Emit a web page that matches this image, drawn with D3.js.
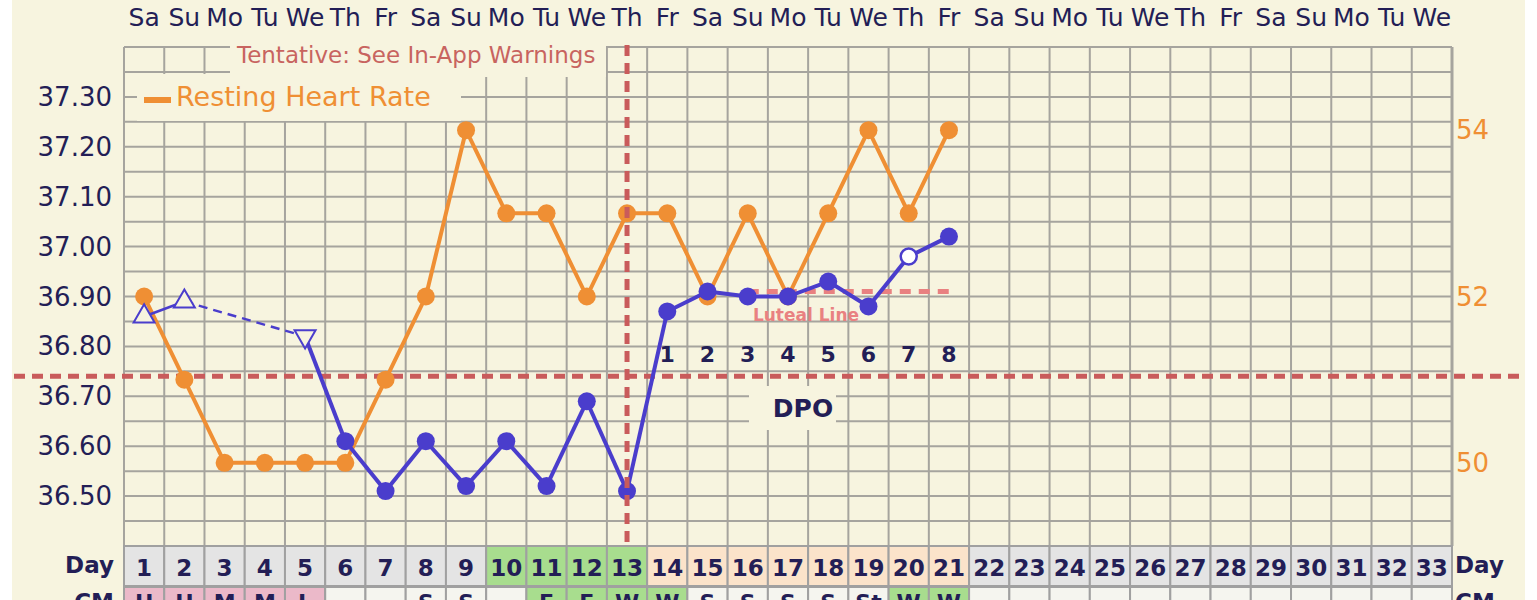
<!DOCTYPE html>
<html>
<head>
<meta charset="utf-8">
<script src="https://cdn.jsdelivr.net/npm/d3@7"></script>
<style>
  body { margin: 0; background: #fff; }
  text { font-family: "DejaVu Sans", Verdana, sans-serif; }
</style>
</head>
<body>
<div id="chart"></div>
<script>
// chart data
const days = d3.range(1, 34);
const weekdays = ["Sa","Su","Mo","Tu","We","Th","Fr","Sa","Su","Mo","Tu","We","Th","Fr","Sa","Su","Mo","Tu","We","Th","Fr","Sa","Su","Mo","Tu","We","Th","Fr","Sa","Su","Mo","Tu","We"];
const temps = [36.86, 36.89, null, null, 36.82, 36.61, 36.51, 36.61, 36.52, 36.61, 36.52, 36.69, 36.51, 36.87, 36.91, 36.90, 36.90, 36.93, 36.88, 36.98, 37.02];
const tempMarks = ["up","up",null,null,"down","dot","dot","dot","dot","dot","dot","dot","dot","dot","dot","dot","dot","dot","dot","open","dot"];
const heartRate = [52, 51, 50, 50, 50, 50, 51, 52, 54, 53, 53, 52, 53, 53, 52, 53, 52, 53, 54, 53, 54];
const phase = ["","","","","","","","","","fertile","fertile","fertile","fertile","luteal","luteal","luteal","luteal","luteal","luteal","luteal","luteal"];
const cm = ["H","H","M","M","L","","","S","S","","E","E","W","W","S","S","S","S","St","W","W"];
const dpo = [1, 2, 3, 4, 5, 6, 7, 8];
const dpoStart = 14;
const ovulationDay = 13;
const coverline = 36.74;
const lutealLine = 36.91;
const lutealFrom = 16, lutealTo = 21;
const tempTicks = [36.50, 36.60, 36.70, 36.80, 36.90, 37.00, 37.10, 37.20, 37.30];
const rhrTicks = [50, 52, 54];

const W = 1537, H = 600;
const navy = "#231e56", blue = "#4a3dcc", orange = "#ef8f34", red = "#c95b5b", pink = "#e98181";
const cream = "#f7f4df", grid = "#a6a49e";

const svg = d3.select("#chart").append("svg")
    .attr("width", W).attr("height", H);

svg.append("rect").attr("x", 12).attr("y", 0).attr("width", 1513).attr("height", H).attr("fill", cream);

const x = d3.scaleBand().domain(days).range([124, 1452]);
const cx = d => x(d) + x.bandwidth() / 2;
const y = d3.scaleLinear().domain([36.40, 37.40]).range([546, 47]);
const yR = d3.scaleLinear().domain([49, 55]).range([546, 47]);

const plotTop = y.range()[1], plotBottom = y.range()[0];
const plotLeft = x.range()[0], plotRight = x.range()[1];

// grid
const hLines = d3.range(0, 21).map(i => 36.40 + i * 0.05);
svg.append("g").selectAll("line").data(hLines).join("line")
    .attr("x1", plotLeft).attr("x2", plotRight)
    .attr("y1", d => y(d)).attr("y2", d => y(d))
    .attr("stroke", grid).attr("stroke-width", 2);
svg.append("g").selectAll("line").data(days.concat([34])).join("line")
    .attr("x1", d => d === 34 ? plotRight : x(d)).attr("x2", d => d === 34 ? plotRight : x(d))
    .attr("y1", plotTop).attr("y2", plotBottom)
    .attr("stroke", grid).attr("stroke-width", d => d === 34 ? 3 : 2);

// label boxes that hide the grid
svg.append("rect").attr("x", 230).attr("y", 38).attr("width", 376).attr("height", 39).attr("fill", cream);
svg.append("rect").attr("x", 137).attr("y", 74).attr("width", 324).attr("height", 47).attr("fill", cream);
svg.append("rect").attr("x", 749).attr("y", 386).attr("width", 87).attr("height", 44).attr("fill", cream);

svg.append("text").attr("x", 237).attr("y", 63)
    .attr("fill", "#c8645f").attr("font-size", 23)
    .text("Tentative: See In-App Warnings");

svg.append("rect").attr("x", 144).attr("y", 97).attr("width", 27).attr("height", 6).attr("fill", orange);
svg.append("text").attr("x", 176).attr("y", 106)
    .attr("fill", orange).attr("font-size", 27)
    .text("Resting Heart Rate");

// weekday row
svg.append("g").selectAll("text").data(days).join("text")
    .attr("x", d => cx(d)).attr("y", 26)
    .attr("text-anchor", "middle").attr("fill", navy).attr("font-size", 25)
    .text((d, i) => weekdays[i]);

// axes labels
svg.append("g").selectAll("text").data(tempTicks).join("text")
    .attr("x", 112).attr("y", d => y(d) + 9)
    .attr("text-anchor", "end").attr("fill", navy).attr("font-size", 26)
    .text(d => d.toFixed(2));
svg.append("g").selectAll("text").data(rhrTicks).join("text")
    .attr("x", 1456).attr("y", d => yR(d) + 9)
    .attr("fill", orange).attr("font-size", 26)
    .text(d => d);

// coverline
svg.append("line")
    .attr("x1", 14).attr("x2", 1525)
    .attr("y1", y(coverline)).attr("y2", y(coverline))
    .attr("stroke", red).attr("stroke-width", 5).attr("stroke-dasharray", "11,7");

// luteal line
svg.append("line")
    .attr("x1", cx(lutealFrom)).attr("x2", cx(lutealTo))
    .attr("y1", y(lutealLine)).attr("y2", y(lutealLine))
    .attr("stroke", pink).attr("stroke-width", 5).attr("stroke-dasharray", "11,8");
svg.append("text").attr("x", 806).attr("y", 321)
    .attr("text-anchor", "middle").attr("fill", pink)
    .attr("font-size", 17).attr("font-weight", "bold")
    .text("Luteal Line");

// DPO numbers
svg.append("g").selectAll("text").data(dpo).join("text")
    .attr("x", (d, i) => cx(dpoStart + i)).attr("y", 362)
    .attr("text-anchor", "middle").attr("fill", navy)
    .attr("font-size", 22).attr("font-weight", "bold")
    .text(d => d);
svg.append("text").attr("x", 803).attr("y", 417)
    .attr("text-anchor", "middle").attr("fill", navy)
    .attr("font-size", 25).attr("font-weight", "bold")
    .text("DPO");

// resting heart rate
const rhr = heartRate.map((v, i) => ({ day: i + 1, v }));
svg.append("path").datum(rhr)
    .attr("fill", "none").attr("stroke", orange).attr("stroke-width", 4)
    .attr("d", d3.line().x(d => cx(d.day)).y(d => yR(d.v)));
svg.append("g").selectAll("circle").data(rhr).join("circle")
    .attr("cx", d => cx(d.day)).attr("cy", d => yR(d.v)).attr("r", 9)
    .attr("fill", orange);

// temperatures
const tp = temps.map((v, i) => ({ day: i + 1, v, mark: tempMarks[i] })).filter(d => d.v !== null);
const segs = d3.pairs(tp);
svg.append("g").selectAll("line").data(segs).join("line")
    .attr("x1", d => cx(d[0].day)).attr("y1", d => y(d[0].v))
    .attr("x2", d => cx(d[1].day)).attr("y2", d => y(d[1].v))
    .attr("stroke", blue)
    .attr("stroke-width", d => d[0].mark === "up" || d[1].day - d[0].day > 1 ? 2.5 : 4)
    .attr("stroke-dasharray", d => d[1].day - d[0].day > 1 ? "9,6" : null);

const tri = d3.symbol().type(d3.symbolTriangle).size(190);
svg.append("g").selectAll("path").data(tp.filter(d => d.mark === "up" || d.mark === "down")).join("path")
    .attr("d", tri)
    .attr("transform", d => `translate(${cx(d.day)},${y(d.v)}) rotate(${d.mark === "down" ? 180 : 0})`)
    .attr("fill", cream).attr("stroke", blue).attr("stroke-width", 2);
svg.append("g").selectAll("circle").data(tp.filter(d => d.mark === "dot" || d.mark === "open")).join("circle")
    .attr("cx", d => cx(d.day)).attr("cy", d => y(d.v))
    .attr("r", d => d.mark === "open" ? 8 : 9)
    .attr("fill", d => d.mark === "open" ? "#fff" : blue)
    .attr("stroke", blue).attr("stroke-width", d => d.mark === "open" ? 2.5 : 0);

// ovulation line
svg.append("line")
    .attr("x1", cx(ovulationDay)).attr("x2", cx(ovulationDay))
    .attr("y1", 45).attr("y2", 542)
    .attr("stroke", red).attr("stroke-width", 5).attr("stroke-dasharray", "11,7");

// day row
const dayFill = { "": "#e4e4e4", fertile: "#a8dd8e", luteal: "#fbe3ca" };
svg.append("g").selectAll("rect").data(days).join("rect")
    .attr("x", d => x(d)).attr("y", 546).attr("width", x.bandwidth()).attr("height", 40)
    .attr("fill", (d, i) => dayFill[phase[i] || ""])
    .attr("stroke", "#a0a0a0").attr("stroke-width", 2);
svg.append("g").selectAll("text").data(days).join("text")
    .attr("x", d => cx(d)).attr("y", 576)
    .attr("text-anchor", "middle").attr("fill", navy)
    .attr("font-size", 23).attr("font-weight", "bold")
    .text(d => d);

// cervical mucus row
const cmFill = c => ["H","M","L"].includes(c) ? "#ebb9c9" : (["E","W"].includes(c) ? "#a8dd8e" : "#f5f5ef");
svg.append("g").selectAll("rect").data(days).join("rect")
    .attr("x", d => x(d)).attr("y", 587).attr("width", x.bandwidth()).attr("height", 40)
    .attr("fill", (d, i) => cmFill(cm[i] || ""))
    .attr("stroke", "#a0a0a0").attr("stroke-width", 2);
svg.append("g").selectAll("text").data(days).join("text")
    .attr("x", d => cx(d)).attr("y", 610)
    .attr("text-anchor", "middle").attr("fill", navy)
    .attr("font-size", 22).attr("font-weight", "bold")
    .text((d, i) => cm[i] || "");

[["end", 114], ["start", 1455]].forEach(([anchor, px]) => {
  svg.append("text").attr("x", px).attr("y", 573)
      .attr("text-anchor", anchor).attr("fill", navy)
      .attr("font-size", 23).attr("font-weight", "bold").text("Day");
  svg.append("text").attr("x", px).attr("y", 610)
      .attr("text-anchor", anchor).attr("fill", navy)
      .attr("font-size", 23).attr("font-weight", "bold").text("CM");
});
</script>
</body>
</html>
